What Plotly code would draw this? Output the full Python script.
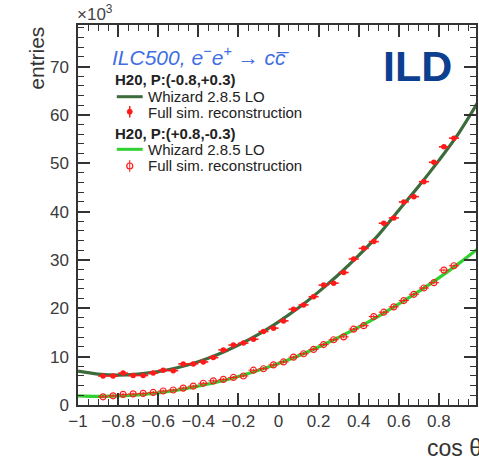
import plotly.graph_objects as go

# bin centres of the reconstructed distributions
bin_centres = [-0.875, -0.825, -0.775, -0.725, -0.675, -0.625, -0.575, -0.525, -0.475, -0.425,
               -0.375, -0.325, -0.275, -0.225, -0.175, -0.125, -0.075, -0.025, 0.025, 0.075,
               0.125, 0.175, 0.225, 0.275, 0.325, 0.375, 0.425, 0.475, 0.525, 0.575,
               0.625, 0.675, 0.725, 0.775, 0.825, 0.875]
bin_half = [0.025] * len(bin_centres)

# Full sim. reconstruction, P(-0.8,+0.3)  [x10^3 entries]
reco_LR = [6.0, 6.0, 6.6, 6.1, 6.1, 6.6, 7.2, 7.1, 8.5, 8.5,
           8.9, 9.8, 11.4, 12.4, 12.8, 13.6, 15.2, 15.9, 17.4, 19.8,
           20.7, 22.4, 24.8, 25.2, 27.4, 30.2, 32.4, 33.8, 37.6, 38.7,
           42.0, 43.1, 46.2, 50.2, 53.4, 55.2]
# Full sim. reconstruction, P(+0.8,-0.3)
reco_RL = [1.7, 1.9, 2.2, 2.3, 2.4, 2.6, 2.9, 3.1, 3.5, 3.9,
           4.5, 5.0, 5.3, 5.7, 6.0, 7.2, 7.5, 8.3, 8.9, 9.9,
           10.6, 11.5, 12.5, 13.5, 14.1, 15.7, 16.4, 18.3, 19.2, 20.3,
           21.6, 22.9, 24.2, 25.3, 27.9, 28.8]

# Whizard 2.8.5 LO curves
curve_x = [-1.0, -0.9, -0.8, -0.7, -0.6, -0.5, -0.4, -0.3, -0.2, -0.1, 0.0,
           0.1, 0.2, 0.3, 0.4, 0.5, 0.6, 0.7, 0.8, 0.9, 1.0]
whiz_LR = [7.0, 6.4, 6.2, 6.4, 6.9, 7.75, 8.95, 10.5, 12.4, 14.6, 17.2,
           20.1, 23.4, 27.0, 30.95, 35.25, 40.3, 45.3, 50.6, 56.3, 63.0]
whiz_RL = [1.9, 1.8, 1.9, 2.1, 2.5, 3.1, 3.9, 4.8, 5.9, 7.2, 8.6,
           10.2, 12.0, 14.0, 16.1, 18.4, 20.9, 23.5, 26.3, 29.3, 32.5]

x_ticks = [-1, -0.8, -0.6, -0.4, -0.2, 0, 0.2, 0.4, 0.6, 0.8]
y_ticks = [0, 10, 20, 30, 40, 50, 60, 70]

legend_header_LR = "H20, P:(-0.8,+0.3)"
legend_header_RL = "H20, P:(+0.8,-0.3)"
legend_line = "Whizard 2.8.5 LO"
legend_points = "Full sim. reconstruction"

FONT = "Liberation Sans, Arial, Helvetica, sans-serif"
AX = "#333333"
RED = "#ff1a1a"
DARK_GREEN = "#3c6b3c"
LIGHT_GREEN = "#2fd02f"

# plot-area geometry (pixels) used to place the hand-made legend
W, H = 479, 457
L, R, T, B = 78, 1, 25, 52
PW, PH = W - L - R, H - T - B


def px(x):
    return (x - L) / PW


def py(y):
    return (H - B - y) / PH


fig = go.Figure()

fig.add_trace(go.Scatter(
    x=curve_x, y=whiz_LR, mode="lines", line=dict(color=DARK_GREEN, width=3.2, shape="spline"),
    name=legend_line, showlegend=False))
fig.add_trace(go.Scatter(
    x=bin_centres, y=reco_LR, mode="markers",
    marker=dict(color=RED, size=5.5, symbol="circle"),
    error_x=dict(type="data", array=bin_half, color=RED, thickness=1.6, width=0),
    error_y=dict(type="constant", value=0.4, color=RED, thickness=1.6, width=0),
    name=legend_points, showlegend=False))

fig.add_trace(go.Scatter(
    x=curve_x, y=whiz_RL, mode="lines", line=dict(color=LIGHT_GREEN, width=3.2, shape="spline"),
    name=legend_line, showlegend=False))
fig.add_trace(go.Scatter(
    x=bin_centres, y=reco_RL, mode="markers",
    marker=dict(color=RED, size=6, symbol="circle-open", line=dict(color=RED, width=1.2)),
    error_x=dict(type="data", array=bin_half, color=RED, thickness=1, width=0),
    error_y=dict(type="constant", value=0.3, color=RED, thickness=1, width=0),
    name=legend_points, showlegend=False))

axis_common = dict(
    showline=True, linecolor=AX, linewidth=1.5, mirror="allticks",
    ticks="inside", ticklen=12, tickwidth=1.5, tickcolor=AX,
    showgrid=False, zeroline=False,
    tickfont=dict(family=FONT, size=17, color="#3a3a3a"),
)
fig.update_xaxes(range=[-1, 0.985], tickvals=x_ticks,
                 minor=dict(dtick=0.05, tick0=-1, ticks="inside", ticklen=6, tickwidth=1.2, tickcolor=AX),
                 ticklabelstandoff=0, **axis_common)
fig.update_yaxes(range=[0, 78.6], tickvals=y_ticks,
                 minor=dict(dtick=2, ticks="inside", ticklen=6, tickwidth=1.2, tickcolor=AX),
                 ticklabelstandoff=4, **axis_common)

# ---- texts ----
fig.add_annotation(xref="paper", yref="paper", x=px(112), y=py(56), xanchor="left", yanchor="middle",
                   text="<i>ILC500, e<sup>−</sup>e<sup>+</sup> → cc\u0305</i>", showarrow=False,
                   xshift=-2, font=dict(family=FONT, size=21, color="#3f6fe3"))
fig.add_annotation(xref="paper", yref="paper", x=px(383), y=py(66), xanchor="left", yanchor="middle",
                   text="<b>ILD</b>", showarrow=False,
                   font=dict(family=FONT, size=43, color="#0c3f8f"))
fig.add_annotation(xref="paper", yref="paper", x=0.0, y=1.0, xanchor="left", yanchor="bottom",
                   text="×10<sup>3</sup>", showarrow=False, yshift=-1, xshift=-3,
                   font=dict(family=FONT, size=17, color="#444"))
fig.add_annotation(xref="paper", yref="paper", x=-0.105, y=1.0, xanchor="center", yanchor="top",
                   text="entries", textangle=-90, showarrow=False,
                   font=dict(family=FONT, size=21, color="#333"))
fig.add_annotation(xref="paper", yref="paper", x=px(430), y=py(448), xanchor="left", yanchor="middle",
                   text="cos θ", showarrow=False, xshift=-3,
                   font=dict(family=FONT, size=23, color="#333"))

# ---- hand-made legend (ROOT style) ----
leg_font = dict(family=FONT, size=15, color="#222")
for text, x, y, bold in [
    (legend_header_LR, 116, 79.5, True),
    (legend_line, 149, 96, False),
    (legend_points, 149, 112, False),
    (legend_header_RL, 116, 133, True),
    (legend_line, 149, 149.5, False),
    (legend_points, 149, 165.5, False),
]:
    fig.add_annotation(xref="paper", yref="paper", x=px(x), y=py(y), xanchor="left", yanchor="middle",
                       xshift=-3, text=f"<b>{text}</b>" if bold else text, showarrow=False, font=leg_font)

shapes = [
    dict(type="line", xref="paper", yref="paper", x0=px(117), x1=px(143), y0=py(96.7), y1=py(96.7),
         line=dict(color=DARK_GREEN, width=3)),
    dict(type="line", xref="paper", yref="paper", x0=px(117), x1=px(143), y0=py(149.3), y1=py(149.3),
         line=dict(color=LIGHT_GREEN, width=3)),
    dict(type="line", xref="paper", yref="paper", x0=px(130), x1=px(130), y0=py(106), y1=py(117.5),
         line=dict(color=RED, width=1.5)),
    dict(type="circle", xref="paper", yref="paper", x0=px(127.5), x1=px(132.5), y0=py(109.2), y1=py(114.2),
         fillcolor=RED, line=dict(color=RED, width=1)),
    dict(type="line", xref="paper", yref="paper", x0=px(130), x1=px(130), y0=py(160), y1=py(172),
         line=dict(color=RED, width=1)),
    dict(type="circle", xref="paper", yref="paper", x0=px(127), x1=px(133), y0=py(163), y1=py(169),
         fillcolor="rgba(0,0,0,0)", line=dict(color=RED, width=1.2)),
]

fig.update_layout(
    width=W, height=H, autosize=False,
    margin=dict(l=L, r=R, t=T, b=B),
    paper_bgcolor="white", plot_bgcolor="white",
    font=dict(family=FONT, color="#222"),
    showlegend=False,
    shapes=shapes,
)

fig.write_html("out.html", config={"displayModeBar": False},
               post_script="document.body.style.margin='0';")
